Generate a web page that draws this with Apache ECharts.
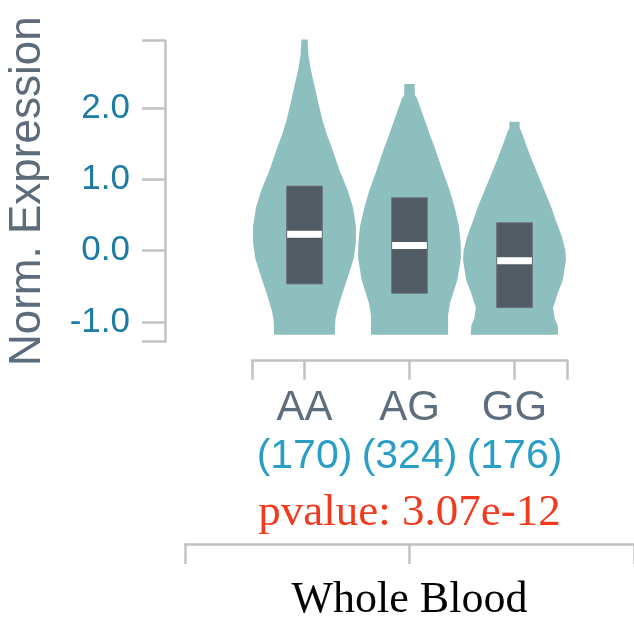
<!DOCTYPE html>
<html>
<head>
<meta charset="utf-8">
<script src="https://cdn.jsdelivr.net/npm/echarts@6/dist/echarts.min.js"></script>
<style>
  html, body { margin: 0; padding: 0; background: #fff; }
  #chart { width: 634px; height: 622px; }
</style>
</head>
<body>
<div id="chart"></div>
<script>
// ---- data ----
const tissue = 'Whole Blood';
const pvalueText = 'pvalue: 3.07e-12';
const categories = ['AA', 'AG', 'GG'];
const sampleCounts = [170, 324, 176];
const q1 = [-0.467, -0.597, -0.80];
const medians = [0.23, 0.074, -0.14];
const q3 = [0.907, 0.743, 0.393];
const yTickValues = [-1, 0, 1, 2];
const yMin = -1.278;
const yMax = 2.949;

// violin outlines: [expression value, relative density]
const densityAA = [
  [2.965, 0.06], [2.75, 0.075], [2.55, 0.12], [2.30, 0.20], [2.07, 0.27], [1.83, 0.35],
  [1.62, 0.44], [1.45, 0.53], [1.13, 0.68], [0.85, 0.84], [0.60, 0.945], [0.34, 1.0],
  [0.12, 1.0], [-0.10, 0.96], [-0.31, 0.87], [-0.59, 0.74], [-0.83, 0.64], [-0.97, 0.60],
  [-1.18, 0.59]
];
const densityAG = [
  [2.34, 0.10], [2.18, 0.105], [2.15, 0.14], [1.97, 0.23], [1.83, 0.30], [1.62, 0.40],
  [1.45, 0.49], [1.13, 0.64], [0.85, 0.78], [0.60, 0.88], [0.35, 0.96], [0.10, 0.995],
  [-0.10, 1.0], [-0.41, 0.93], [-0.73, 0.79], [-0.90, 0.75], [-1.18, 0.75]
];
const densityGG = [
  [1.81, 0.10], [1.72, 0.10], [1.68, 0.13], [1.46, 0.24], [1.27, 0.34], [0.90, 0.55],
  [0.62, 0.71], [0.43, 0.80], [0.20, 0.92], [0.0, 0.99], [-0.13, 1.0], [-0.41, 0.94],
  [-0.60, 0.84], [-0.80, 0.75], [-0.95, 0.78], [-1.05, 0.84], [-1.18, 0.85]
];
const densities = [densityAA, densityAG, densityGG];

// ---- styles ----
const axisGray = '#c2c2c2';
const violinColor = '#8dbfbe';
const boxColor = '#515b63';

const chart = echarts.init(document.getElementById('chart'), null, { renderer: 'canvas' });

function renderViolin(params, api) {
  const i = api.value(0);
  const unit = api.size([1, 0])[0];
  const half = 0.49 * unit;
  const prof = densities[i];
  const left = prof.map(([v, d]) => { const p = api.coord([i, v]); return [p[0] - d * half, p[1]]; });
  const right = prof.map(([v, d]) => { const p = api.coord([i, v]); return [p[0] + d * half, p[1]]; }).reverse();
  const top = api.coord([i, q3[i]]);
  const bot = api.coord([i, q1[i]]);
  const med = api.coord([i, medians[i]]);
  const bw = 0.34 * unit;
  return {
    type: 'group',
    children: [
      { type: 'polygon', shape: { points: left.concat(right) }, style: { fill: violinColor } },
      { type: 'rect', shape: { x: top[0] - bw / 2, y: top[1], width: bw, height: bot[1] - top[1] },
        style: { fill: boxColor, stroke: '#6c757b', lineWidth: 1 } },
      { type: 'rect', shape: { x: med[0] - bw / 2 + 0.5, y: med[1] - 3.5, width: bw - 1, height: 7 },
        style: { fill: '#ffffff' } }
    ]
  };
}

const option = {
  backgroundColor: '#ffffff',
  animation: false,
  grid: [
    { left: 252, right: 67, top: 40.7, bottom: 280.3 },
    { left: 185, right: -1, top: 540, bottom: 74.5 }
  ],
  xAxis: [
    {
      type: 'value', gridIndex: 0, min: -0.5, max: 2.5, position: 'bottom', offset: 19,
      axisLine: { show: true, onZero: false, lineStyle: { color: axisGray, width: 2.5 } },
      axisTick: { show: true, length: 19, customValues: [-0.5, 0, 1, 2, 2.5], lineStyle: { color: axisGray, width: 2.5 } },
      axisLabel: {
        customValues: [0, 1, 2], margin: 24,
        formatter: v => '{n|' + categories[Math.round(v)] + '}\n{c|(' + sampleCounts[Math.round(v)] + ')}',
        rich: {
          n: { fontFamily: 'Arial, Liberation Sans, sans-serif', fontSize: 42, color: '#5e6d7d', lineHeight: 48, align: 'center' },
          c: { fontFamily: 'Arial, Liberation Sans, sans-serif', fontSize: 41, color: '#2a9ec6', lineHeight: 48, align: 'center' }
        }
      },
      splitLine: { show: false },
      name: pvalueText, nameLocation: 'middle', nameGap: 130,
      nameTextStyle: { fontFamily: 'Liberation Serif, Times New Roman, serif', fontSize: 45, color: '#f23a1e' }
    },
    {
      type: 'value', gridIndex: 1, min: 0, max: 2, position: 'bottom',
      axisLine: { show: true, onZero: false, lineStyle: { color: axisGray, width: 2.5 } },
      axisTick: { show: true, length: 20, customValues: [0, 1, 2], lineStyle: { color: axisGray, width: 2.5 } },
      axisLabel: {
        customValues: [1], margin: 34, formatter: () => tissue,
        fontFamily: 'Liberation Serif, Times New Roman, serif', fontSize: 44, color: '#000000'
      },
      splitLine: { show: false }
    }
  ],
  yAxis: [
    {
      type: 'value', gridIndex: 0, min: yMin, max: yMax, position: 'left', offset: 87,
      axisLine: { show: true, onZero: false, lineStyle: { color: axisGray, width: 2.5 } },
      axisTick: { show: true, length: 23, customValues: [yMin].concat(yTickValues, [yMax]), lineStyle: { color: axisGray, width: 2.5 } },
      axisLabel: {
        customValues: yTickValues, margin: 35, formatter: v => v.toFixed(1),
        fontFamily: 'Arial, Liberation Sans, sans-serif', fontSize: 35, color: '#1e7ca4'
      },
      splitLine: { show: false },
      name: 'Norm. Expression', nameLocation: 'middle', nameGap: 115, nameRotate: 90,
      nameTextStyle: { fontFamily: 'Arial, Liberation Sans, sans-serif', fontSize: 44, color: '#5d6b7a' }
    },
    { type: 'value', gridIndex: 1, show: false, min: 0, max: 1 }
  ],
  series: [
    {
      type: 'custom', xAxisIndex: 0, yAxisIndex: 0, clip: false,
      renderItem: renderViolin,
      encode: { x: 0, y: 1 },
      data: categories.map((c, i) => [i, medians[i]])
    }
  ]
};
chart.setOption(option);
</script>
</body>
</html>
